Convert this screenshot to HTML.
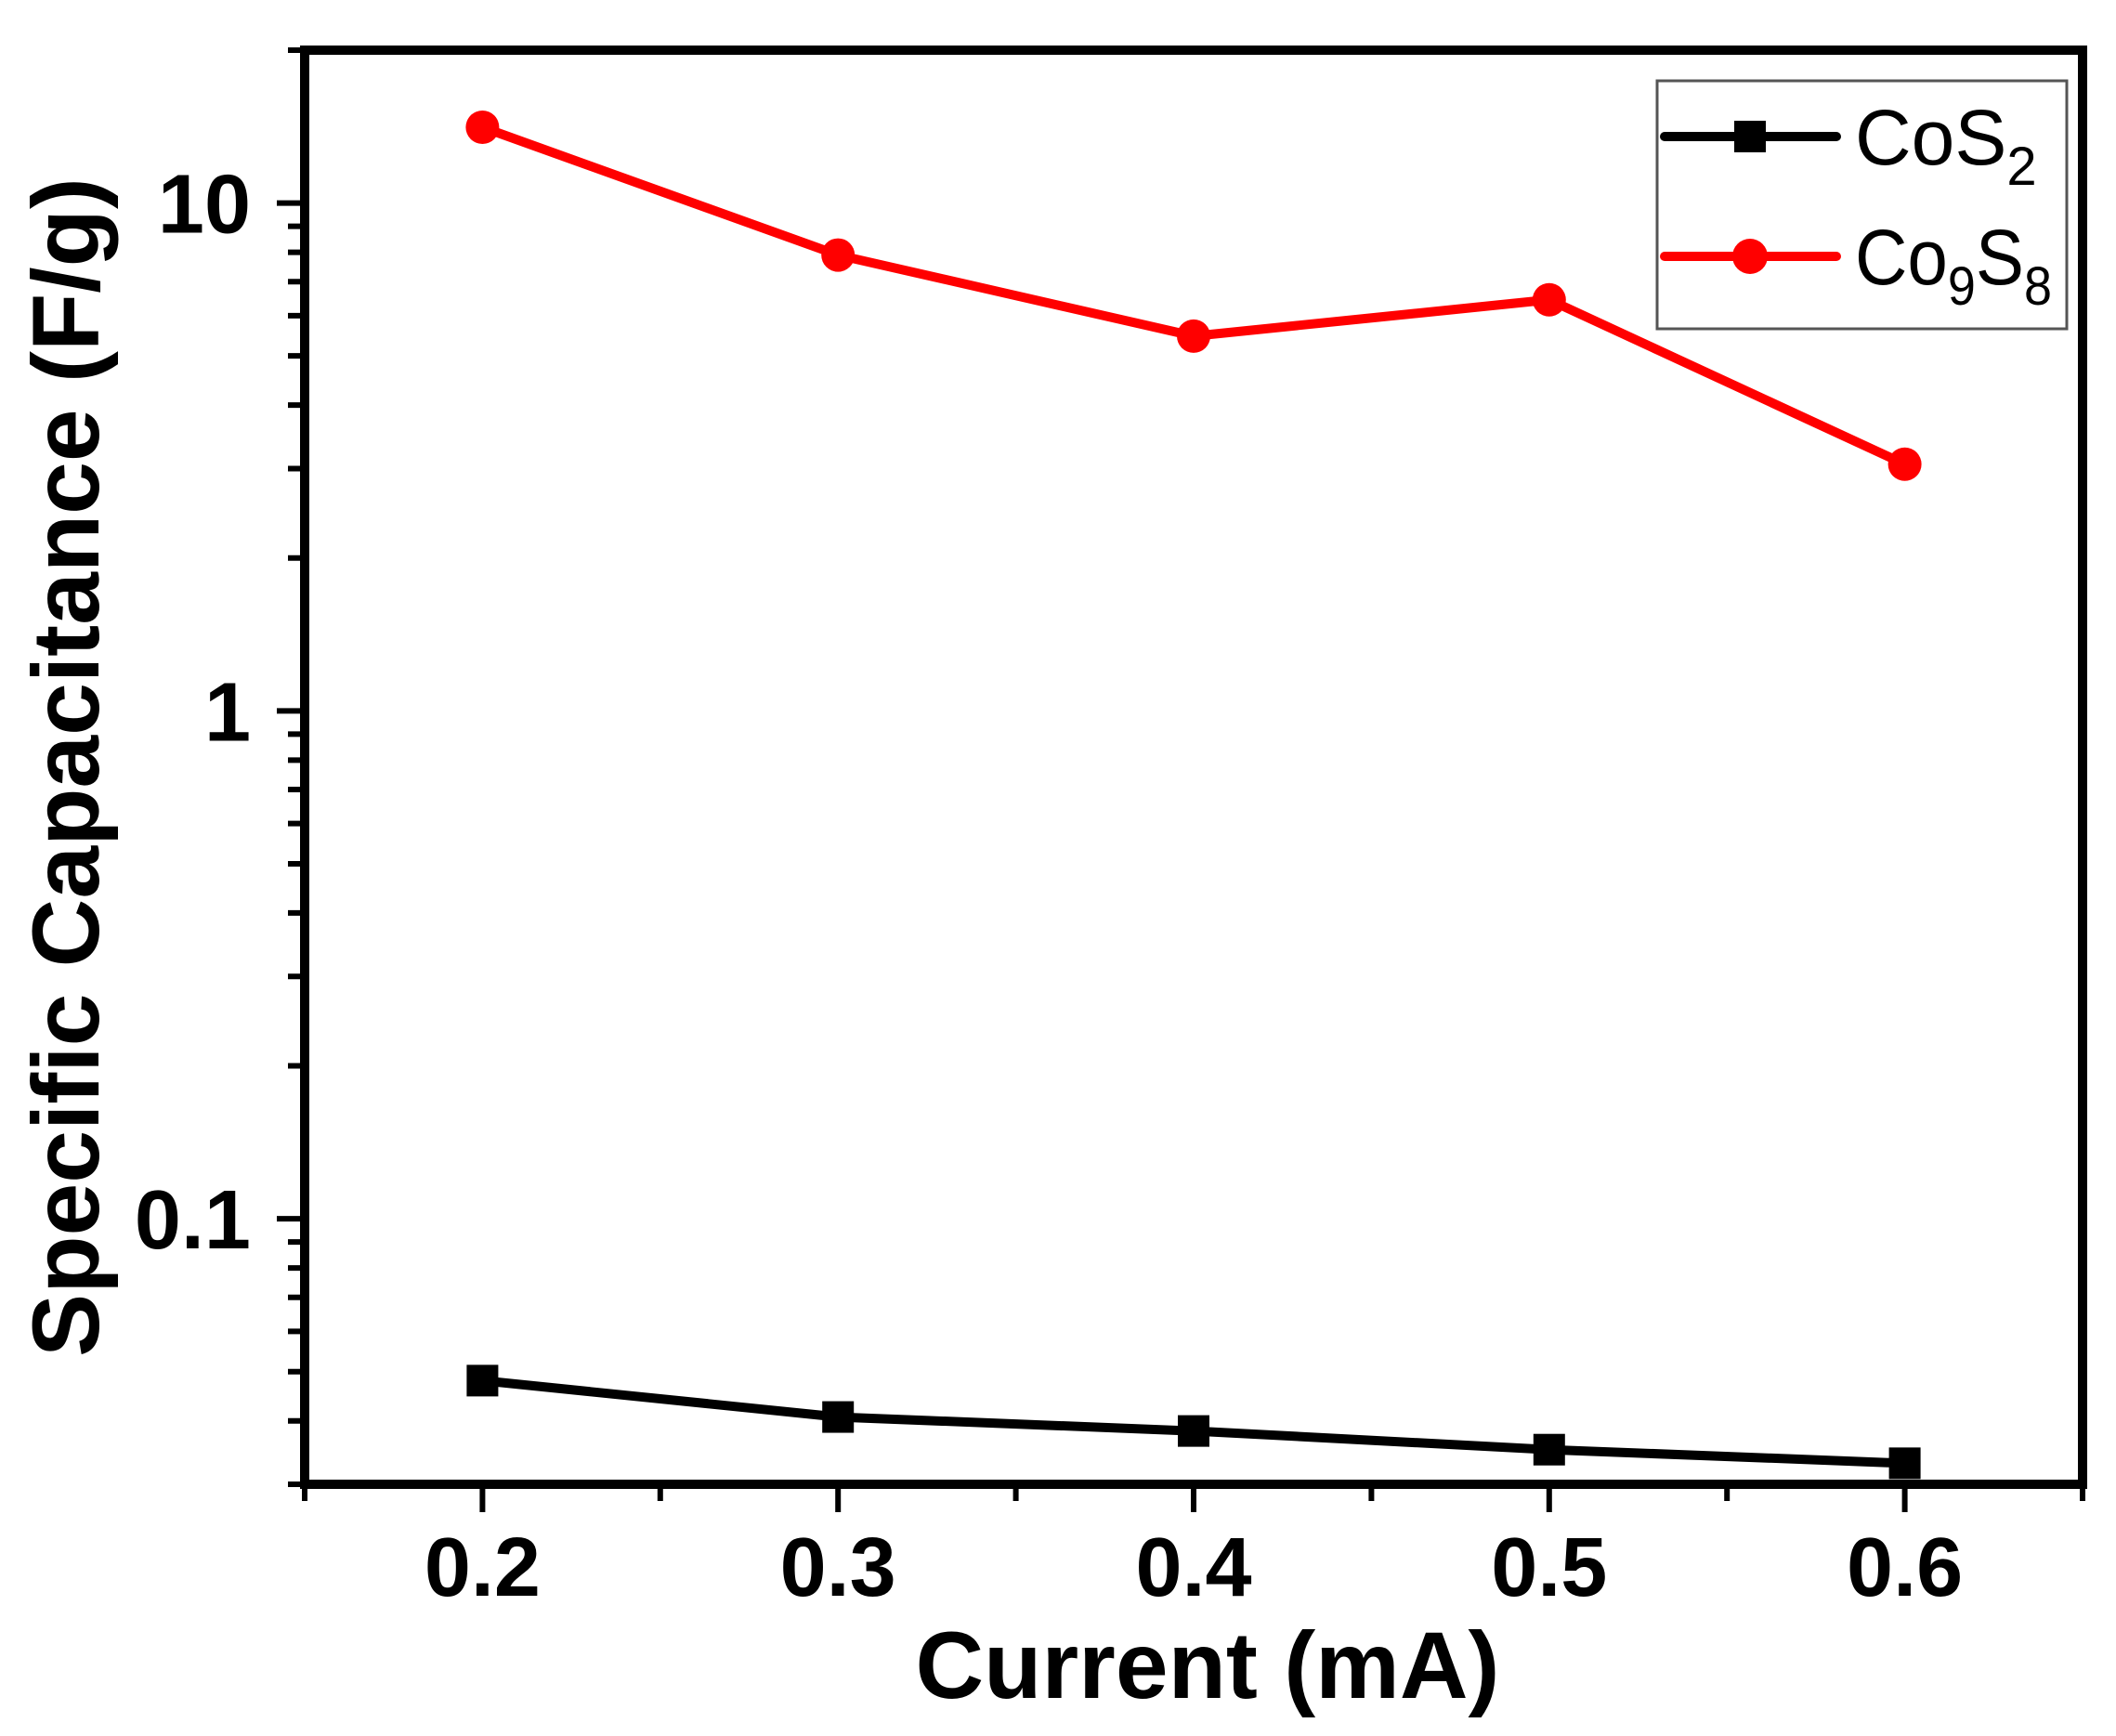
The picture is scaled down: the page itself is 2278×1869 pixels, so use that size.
<!DOCTYPE html>
<html><head><meta charset="utf-8"><style>
html,body{margin:0;padding:0;background:#fff;}
svg{display:block;font-family:"Liberation Sans",Arial,sans-serif;}
</style></head><body>
<svg id="chart" width="2278" height="1869" viewBox="0 0 2278 1869">
<g id="marks"></g>
<g id="axes"></g>
<text x="1300" y="1828" font-size="102" font-weight="bold" text-anchor="middle">Current (mA)</text>
<text transform="translate(106,826) rotate(-90)" font-size="102" font-weight="bold" text-anchor="middle">Specific Capacitance (F/g)</text>
<g>
<rect x="1784" y="87" width="441" height="267" fill="#fff" stroke="#555" stroke-width="3"/>
<g>
<line x1="1792" y1="147" x2="1977" y2="147" stroke="#000" stroke-width="10" stroke-linecap="round"/>
<rect x="1867" y="130" width="34" height="34" fill="#000"/>
<text x="1997" y="177" font-size="84">CoS<tspan font-size="58" dy="22">2</tspan></text>
</g>
<g>
<line x1="1792" y1="276" x2="1977" y2="276" stroke="#f00" stroke-width="10" stroke-linecap="round"/>
<circle cx="1884" cy="276" r="19" fill="#f00"/>
<text x="1997" y="306" font-size="84" textLength="212" lengthAdjust="spacingAndGlyphs">Co<tspan font-size="58" dy="22">9</tspan><tspan dy="-22">S</tspan><tspan font-size="58" dy="22">8</tspan></text>
</g>
</g>
</svg>
<script>
const categories = [0.2, 0.3, 0.4, 0.5, 0.6];
const cos2Values = [0.048, 0.0407, 0.0382, 0.0351, 0.033];
const co9s8Values = [14.1, 7.9, 5.47, 6.45, 3.06];
const xTickLabels = ["0.2", "0.3", "0.4", "0.5", "0.6"];
const yTickValues = [0.1, 1, 10];
const yTickLabels = ["0.1", "1", "10"];

const L = 328, R = 2242, T = 54, B = 1598;
const xMin = 0.15, xMax = 0.65, yMin = 0.03, yMax = 20;
const NS = "http://www.w3.org/2000/svg";
function xs(v){ return L + (v - xMin) / (xMax - xMin) * (R - L); }
function ys(v){ return B - (Math.log10(v) - Math.log10(yMin)) / (Math.log10(yMax) - Math.log10(yMin)) * (B - T); }
function mk(tag, attrs, parent){ const e = document.createElementNS(NS, tag); for (const k in attrs) e.setAttribute(k, attrs[k]); parent.appendChild(e); return e; }

const marks = document.getElementById('marks');
const axes = document.getElementById('axes');

function series(vals, color, shape, name){
  const g = mk('g', {}, marks);
  
  
  const pts = categories.map((c, i) => xs(c) + ',' + ys(vals[i])).join(' ');
  const pl = mk('polyline', {points: pts, fill: 'none', stroke: color, 'stroke-width': 10, 'stroke-linejoin': 'round'}, g);
  
  
  categories.forEach((c, i) => {
    let m;
    if (shape === 'square') m = mk('rect', {x: xs(c) - 17, y: ys(vals[i]) - 17, width: 34, height: 34, fill: color}, g);
    else m = mk('circle', {cx: xs(c), cy: ys(vals[i]), r: 18, fill: color}, g);
    
    
  });
}
series(cos2Values, '#000', 'square', 'cos2');
series(co9s8Values, '#f00', 'circle', 'co9s8');

const frame = mk('rect', {x: L, y: T, width: R - L, height: B - T, fill: 'none', stroke: '#000', 'stroke-width': 10}, axes);



for (let v = 0.15; v <= 0.6501; v += 0.05) {
  const major = Math.abs(Math.round(v * 10) - v * 10) < 1e-6;
  const t = mk('line', {x1: xs(v), x2: xs(v), y1: B, y2: B + (major ? 30 : 18), stroke: '#000', 'stroke-width': 6}, axes);
  
  
}
categories.forEach((c, i) => {
  const t = mk('text', {x: xs(c), y: 1718, 'font-size': 90, 'font-weight': 'bold', 'text-anchor': 'middle'}, axes);
  t.textContent = xTickLabels[i];
  
  
});
for (let d = -2; d <= 1; d++) {
  for (let k = 1; k <= 9; k++) {
    const v = k * Math.pow(10, d);
    if (v < yMin || v > yMax) continue;
    const t = mk('line', {x1: L, x2: L - (k === 1 ? 30 : 18), y1: ys(v), y2: ys(v), stroke: '#000', 'stroke-width': 6}, axes);
    
    
  }
}
yTickValues.forEach((v, i) => {
  const t = mk('text', {x: 270, y: ys(v) + 32, 'font-size': 90, 'font-weight': 'bold', 'text-anchor': 'end'}, axes);
  t.textContent = yTickLabels[i];
  
  
});
</script>
</body></html>
